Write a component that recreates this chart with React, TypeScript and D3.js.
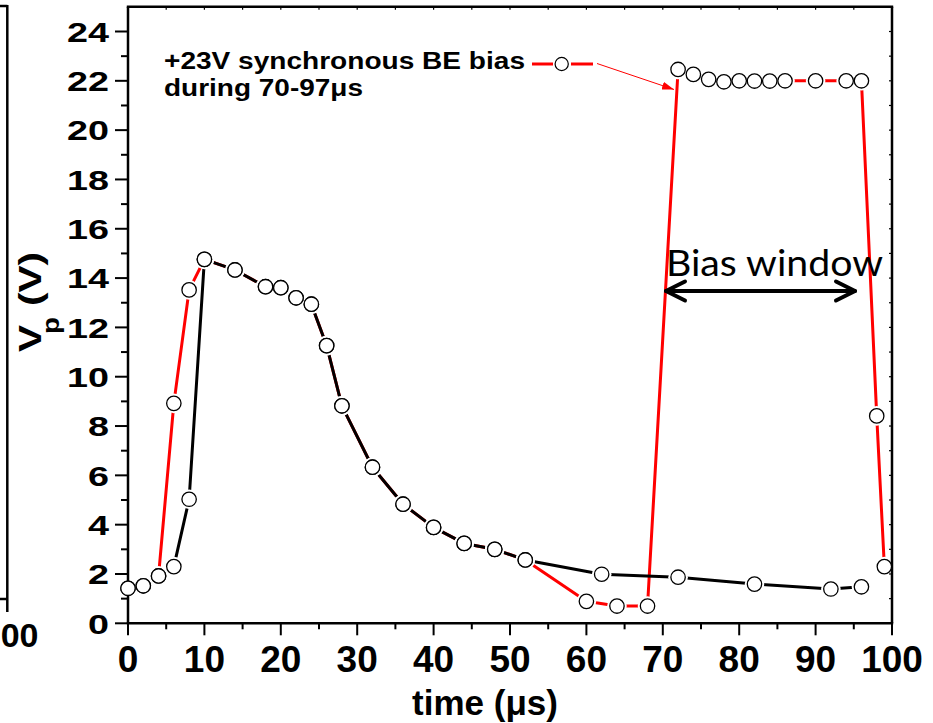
import React from "react";
import * as d3 from "d3";

// ---- data ----
const timeNoBias = [0, 2, 4, 6, 8, 10, 14, 18, 20, 22, 24, 26, 28, 32, 36, 40, 44, 48, 52, 62, 72, 82, 92, 96];
const vpNoBias = [1.42, 1.52, 1.92, 2.3, 5.03, 14.76, 14.33, 13.65, 13.61, 13.2, 12.94, 11.26, 8.82, 6.33, 4.83, 3.89, 3.24, 3.0, 2.57, 1.99, 1.87, 1.59, 1.39, 1.48];

const timeBias = [0, 2, 4, 6, 8, 10, 14, 18, 20, 22, 24, 26, 28, 32, 36, 40, 44, 48, 52, 60, 64, 68, 72, 74, 76, 78, 80, 82, 84, 86, 90, 94, 96, 98, 99];
const vpBias = [1.42, 1.52, 1.92, 8.92, 13.52, 14.76, 14.33, 13.65, 13.61, 13.2, 12.94, 11.26, 8.82, 6.33, 4.83, 3.89, 3.24, 3.0, 2.57, 0.89, 0.7, 0.7, 22.46, 22.26, 22.06, 21.96, 22.0, 21.99, 21.99, 22.0, 22.0, 22.0, 22.0, 8.41, 2.3];

const xTicks = [0, 10, 20, 30, 40, 50, 60, 70, 80, 90, 100];
const xMinorTicks = [5, 15, 25, 35, 45, 55, 65, 75, 85, 95];
const yTicks = [0, 2, 4, 6, 8, 10, 12, 14, 16, 18, 20, 22, 24];
const yMinorTicks = [1, 3, 5, 7, 9, 11, 13, 15, 17, 19, 21, 23];

const annotationLine1 = "+23V synchronous BE bias";
const annotationLine2 = "during 70-97μs";
const windowLabel = "Bias window";
const xLabel = "time (μs)";
const neighbourLabel = "00";

const W = 933;
const H = 723;
const ARIAL = "'Liberation Sans', Arial, sans-serif";

export default function App() {
  const x = d3.scaleLinear().domain([0, 100]).range([128, 892]);
  const y = d3.scaleLinear().domain([0, 24]).range([623.3, 31.5]);
  const yTop = y(25);
  const x0 = x(0), x1 = x(100), y0 = y(0);

  const noBias = timeNoBias.map((t, i) => [t, vpNoBias[i]] as [number, number]);
  const bias = timeBias.map((t, i) => [t, vpBias[i]] as [number, number]);
  const line = d3.line<[number, number]>().x(d => x(d[0])).y(d => y(d[1]));

  const allPts = [...bias, ...noBias];
  const R = 7.2;
  const HALO = 9.8;

  const sw = 2.5;

  return (
    <svg width={W} height={H} style={{ display: "block", position: "absolute", left: 0, top: 0, background: "#fff" }}>
      <rect x={0} y={0} width={W} height={H} fill="#fff" />
      {/* neighbouring chart fragment */}
      <g stroke="#000" strokeWidth={sw} fill="none">
        <line x1={0} y1={6} x2={7.3} y2={6} />
        <line x1={7.3} y1={5} x2={7.3} y2={612} />
        <line x1={0} y1={599} x2={7.3} y2={599} />
      </g>
      <text x={38.5} y={647} textAnchor="end" fontFamily={ARIAL} fontWeight="bold" fontSize={34}>{neighbourLabel}</text>

      {/* series lines */}
      <path d={line(bias) || ""} fill="none" stroke="#ff0000" strokeWidth={3} strokeLinejoin="round" />
      <path d={line(noBias) || ""} fill="none" stroke="#000" strokeWidth={3} strokeLinejoin="round" />

      {/* halos (gaps around symbols) */}
      {allPts.map((d, i) => (
        <circle key={"h" + i} cx={x(d[0])} cy={y(d[1])} r={HALO} fill="#fff" />
      ))}

      {/* frame */}
      <g stroke="#000" strokeWidth={sw} fill="none">
        <line x1={x0} y1={yTop} x2={x0} y2={y0} />
        <line x1={x0 - 1.2} y1={y0} x2={x1 + 1.2} y2={y0} />
        <line x1={x0 - 1.2} y1={yTop} x2={x1 + 1.2} y2={yTop} />
        <line x1={x1} y1={yTop} x2={x1} y2={y0} />
      </g>
      {/* ticks */}
      <g stroke="#000" strokeWidth={2}>
        {yTicks.map(t => <line key={"yt" + t} x1={x0 - 13} x2={x0} y1={y(t)} y2={y(t)} />)}
        {yMinorTicks.map(t => <line key={"ym" + t} x1={x0 - 7} x2={x0} y1={y(t)} y2={y(t)} />)}
        {xTicks.map(t => <line key={"xt" + t} x1={x(t)} x2={x(t)} y1={y0} y2={y0 + 12} />)}
        {xMinorTicks.map(t => <line key={"xm" + t} x1={x(t)} x2={x(t)} y1={y0} y2={y0 + 6} />)}
      </g>
      <g stroke="#000" strokeWidth={1.2}>
        {[...xTicks, ...xMinorTicks].map(t => <line key={"tt" + t} x1={x(t)} x2={x(t)} y1={yTop} y2={yTop + 3} />)}
        {[...yTicks, ...yMinorTicks].map(t => <line key={"rt" + t} x1={x1 - 3} x2={x1} y1={y(t)} y2={y(t)} />)}
      </g>

      {/* tick labels */}
      <g fontFamily={ARIAL} fontWeight="bold">
        {yTicks.map(t => {
          const s = String(t);
          return (
            <text key={"yl" + t} x={109} y={y(t) + 10.3} textAnchor="end" fontSize={28}
              textLength={21 * s.length} lengthAdjust="spacingAndGlyphs">{s}</text>
          );
        })}
        {xTicks.map(t => (
          <text key={"xl" + t} x={x(t)} y={672} textAnchor="middle" fontSize={37}>{String(t)}</text>
        ))}
      </g>

      {/* axis titles */}
      <text x={485} y={715} textAnchor="middle" fontFamily={ARIAL} fontWeight="bold" fontSize={35}>{xLabel}</text>
      <g transform="translate(41,352) rotate(-90)" fontFamily={ARIAL} fontWeight="bold">
        <text x={0} y={0} fontSize={31} textLength={27} lengthAdjust="spacingAndGlyphs">V</text>
        <text x={18} y={18} fontSize={23} textLength={17} lengthAdjust="spacingAndGlyphs">p</text>
        <text x={46} y={0} fontSize={31} textLength={54} lengthAdjust="spacingAndGlyphs">(V)</text>
      </g>

      {/* annotation */}
      <g fontFamily={ARIAL} fontWeight="bold" fontSize={23}>
        <text x={164} y={68.5} textLength={361} lengthAdjust="spacingAndGlyphs">{annotationLine1}</text>
        <text x={164} y={95.5} textLength={199} lengthAdjust="spacingAndGlyphs">{annotationLine2}</text>
      </g>
      <line x1={532} y1={64} x2={553} y2={64} stroke="#ff0000" strokeWidth={3} />
      <line x1={571} y1={64} x2={593} y2={64} stroke="#ff0000" strokeWidth={3} />
      <circle cx={561.7} cy={64} r={6.6} fill="#fff" stroke="#000" strokeWidth={1.2} />
      {/* thin red arrow */}
      <defs>
        <marker id="redhead" viewBox="0 0 12 8" refX={12} refY={4} markerWidth={12} markerHeight={8} markerUnits="userSpaceOnUse" orient="auto">
          <path d="M0,0 L12,4 L0,8 Z" fill="#ff0000" />
        </marker>
      </defs>
      <line x1={597} y1={63.5} x2={674} y2={89.5} stroke="#ff0000" strokeWidth={1} markerEnd="url(#redhead)" />

      {/* bias window */}
      <text x={666} y={276} fontFamily="Lato, 'Open Sans', sans-serif" fontSize={37} textLength={217} lengthAdjust="spacingAndGlyphs">{windowLabel}</text>
      <g stroke="#000" strokeWidth={4} fill="none" strokeLinecap="round" strokeLinejoin="round">
        <line x1={666} y1={291} x2={855} y2={291} />
        <polyline points="685,281.5 666,291 685,300.5" />
        <polyline points="836,281.5 855,291 836,300.5" />
      </g>

      {/* symbols */}
      {allPts.map((d, i) => (
        <circle key={"c" + i} cx={x(d[0])} cy={y(d[1])} r={R} fill="#fff" stroke="#000" strokeWidth={1.3} />
      ))}
    </svg>
  );
}
